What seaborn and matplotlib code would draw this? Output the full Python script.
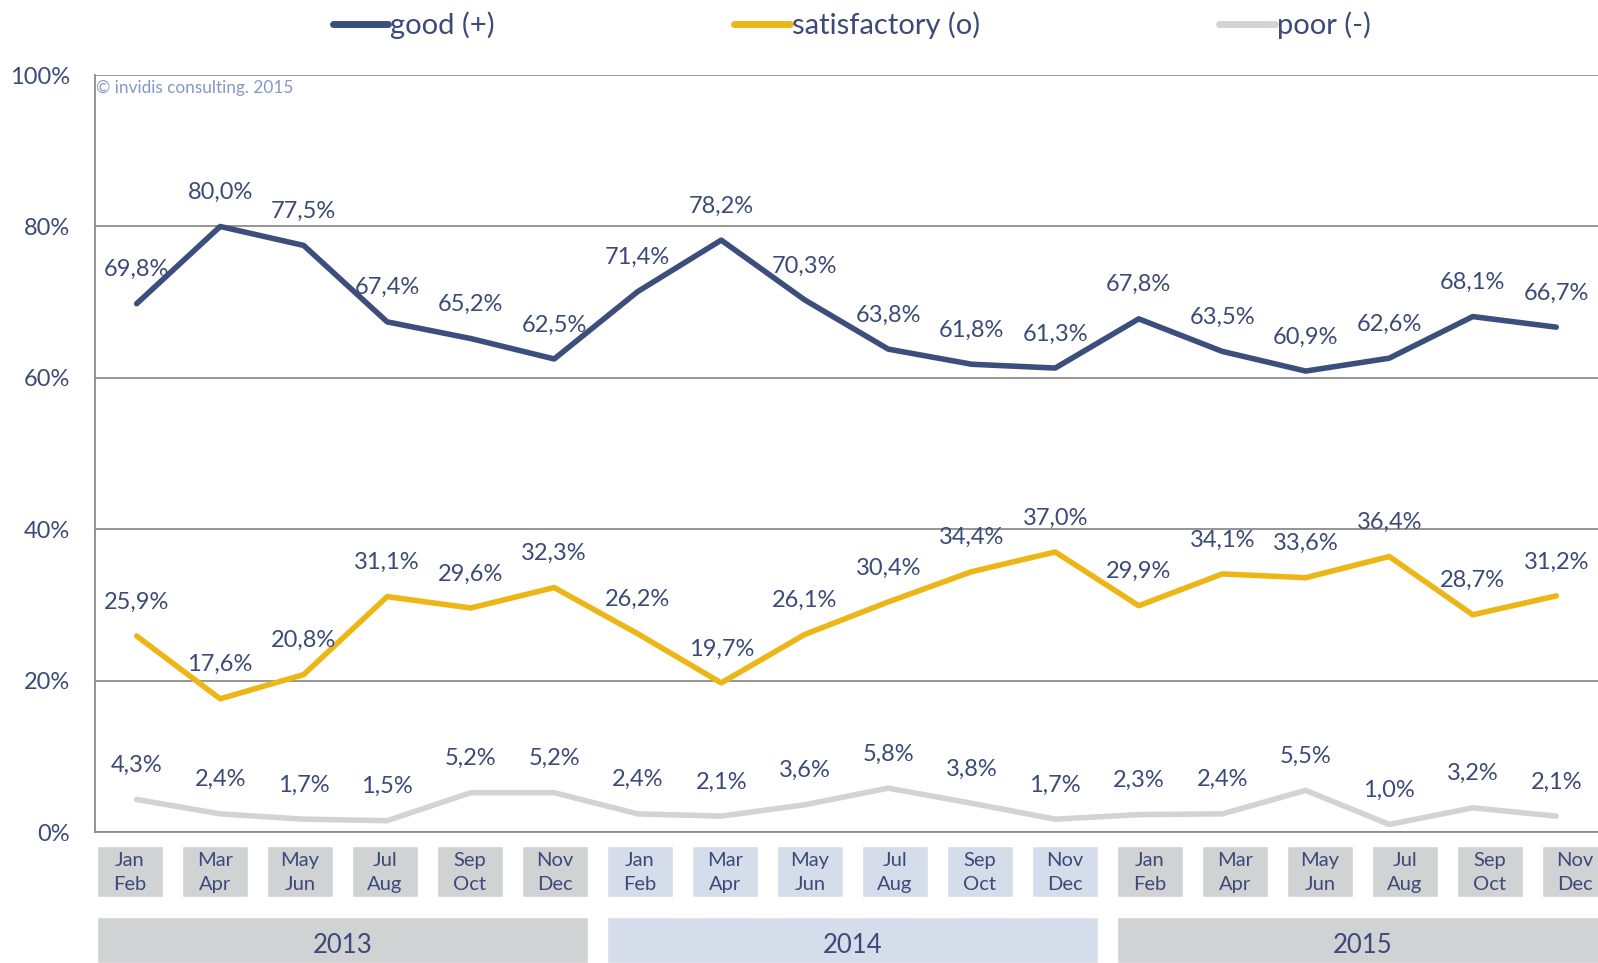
import pandas as pd
import matplotlib.pyplot as plt
import seaborn as sns

# ------------------------------------------------------------
# data
# ------------------------------------------------------------
periods = ["Jan\nFeb", "Mar\nApr", "May\nJun", "Jul\nAug", "Sep\nOct", "Nov\nDec"] * 3
years = ["2013", "2014", "2015"]

good = [69.8, 80.0, 77.5, 67.4, 65.2, 62.5, 71.4, 78.2, 70.3,
        63.8, 61.8, 61.3, 67.8, 63.5, 60.9, 62.6, 68.1, 66.7]
satisfactory = [25.9, 17.6, 20.8, 31.1, 29.6, 32.3, 26.2, 19.7, 26.1,
                30.4, 34.4, 37.0, 29.9, 34.1, 33.6, 36.4, 28.7, 31.2]
poor = [4.3, 2.4, 1.7, 1.5, 5.2, 5.2, 2.4, 2.1, 3.6,
        5.8, 3.8, 1.7, 2.3, 2.4, 5.5, 1.0, 3.2, 2.1]

series_names = ["good (+)", "satisfactory (o)", "poor (-)"]
yticks = [0, 20, 40, 60, 80, 100]

# colours
NAVY = "#3c4e7c"
GOLD = "#ecb716"
LGRAY = "#d3d3d3"
TEXT = "#3b4a78"
BOX_GRAY = "#d1d2d4"
BOX_BLUE = "#d5ddeb"
palette = {series_names[0]: NAVY, series_names[1]: GOLD, series_names[2]: LGRAY}
year_colors = [BOX_GRAY, BOX_BLUE, BOX_GRAY]

n = len(good)
df = pd.DataFrame({
    "idx": list(range(n)) * 3,
    "value": good + satisfactory + poor,
    "series": [s for s in series_names for _ in range(n)],
})

# ------------------------------------------------------------
# figure
# ------------------------------------------------------------
sns.set_style("white")
plt.rcParams["font.family"] = ["Lato", "DejaVu Sans"]

fig = plt.figure(figsize=(15.98, 9.63), dpi=100)
ax = fig.add_axes([0.0594, 0.136, 0.9406, 0.786])

sns.lineplot(data=df, x="idx", y="value", hue="series", palette=palette,
             hue_order=series_names, linewidth=4, ax=ax, legend=False,
             solid_capstyle="round", solid_joinstyle="round", sort=False)

# data labels
for vals in (good, satisfactory, poor):
    for i, v in enumerate(vals):
        ax.annotate(f"{v:.1f}%".replace(".", ","), (i, v), xytext=(0, 24.5),
                    textcoords="offset points", ha="center", va="center",
                    fontsize=17, color=TEXT)

# category width ~83.8 px, axes runs off the right edge of the picture
xmax = -0.5 + 1503 / 83.8
ax.set_xlim(-0.5, xmax)
ax.set_ylim(0, 100)
ax.set_yticks(yticks)
ax.set_yticklabels([f"{t}%" for t in yticks], fontsize=17, color=TEXT)
ax.yaxis.grid(True, color="#8c8c8c", linewidth=1.3)
ax.set_axisbelow(True)
ax.set_xlabel("")
ax.set_ylabel("")

ax.set_xticks([i - 0.5 for i in range(n + 1)])
ax.set_xticklabels([])
ax.tick_params(axis="x", direction="out", length=8, width=1.3, color="#8c8c8c")
ax.tick_params(axis="y", length=0, pad=18)

for s in ["top", "right"]:
    ax.spines[s].set_visible(False)
for s in ["left", "bottom"]:
    ax.spines[s].set_color("#8c8c8c")
    ax.spines[s].set_linewidth(1.3)

ax.text(0.001, 0.993, "\u00a9 invidis consulting. 2015", transform=ax.transAxes,
        ha="left", va="top", fontsize=12.4, color="#8497c8")

# legend
handles = [plt.Line2D([], [], color=palette[s], linewidth=5,
                      solid_capstyle="round") for s in series_names]
fig.legend(handles, series_names, loc="center", bbox_to_anchor=(0.533, 0.9735),
           ncol=3, frameon=False, fontsize=21, labelcolor=TEXT,
           handlelength=1.9, handletextpad=0.08, columnspacing=8.2)

# ------------------------------------------------------------
# category boxes below the axis (own grid, ~85 px per box)
# ------------------------------------------------------------
bx = fig.add_axes([0.0594, 0.0, 0.9406, 0.136])
bx.set_xlim(-2 / 85, -2 / 85 + 1503 / 85)
bx.set_ylim(0, 131)
bx.axis("off")

box_w = 66 / 85
box_x = list(range(n))
box_c = [year_colors[i // 6] for i in range(n)]
bx.bar(box_x, [51] * n, bottom=66, width=box_w, align="edge", color=box_c)
for i, p in enumerate(periods):
    bx.text(box_x[i] + box_w / 2, 90.5, p, ha="center", va="center",
            fontsize=14.5, color=TEXT, linespacing=1.55)

year_x = [k * 6 for k in range(3)]
bx.bar(year_x, [46] * 3, bottom=0, width=5 + box_w, align="edge", color=year_colors)
for k, y in enumerate(years):
    bx.text(year_x[k] + (5 + box_w) / 2, 17.5, y, ha="center", va="center",
            fontsize=18.5, color=TEXT)

plt.savefig("out.png", dpi=100)
